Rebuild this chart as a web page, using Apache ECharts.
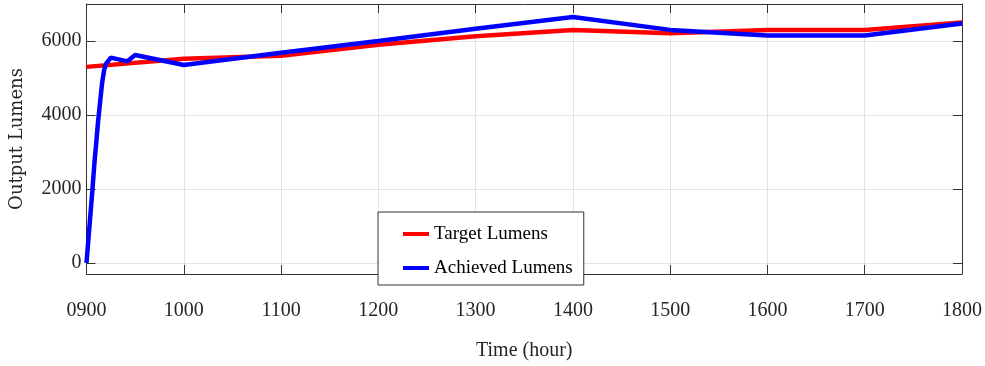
<!DOCTYPE html>
<html>
<head>
<meta charset="utf-8">
<script src="https://cdn.jsdelivr.net/npm/echarts@6/dist/echarts.min.js"></script>
<style>
  html, body { margin: 0; padding: 0; background: #fff; }
  #chart { width: 985px; height: 366px; }
</style>
</head>
<body>
<div id="chart"></div>
<script>
// Target lumens schedule (hour, lumens)
const targetHours = [900, 1000, 1100, 1200, 1300, 1400, 1500, 1600, 1700, 1800];
const targetLumens = [5300, 5520, 5600, 5900, 6130, 6300, 6210, 6300, 6300, 6500];

// Achieved lumens (hour, lumens)
const achievedHours = [900, 902, 904, 906, 908, 910, 912, 914, 916, 918, 920, 925, 942, 950, 1000, 1100, 1200, 1300, 1400, 1500, 1600, 1700, 1800];
const achievedLumens = [0, 650, 1300, 1950, 2650, 3250, 3850, 4350, 4850, 5200, 5380, 5550, 5450, 5620, 5350, 5680, 6000, 6330, 6650, 6300, 6150, 6150, 6470];

// Axis ticks
const xTicks = [900, 1000, 1100, 1200, 1300, 1400, 1500, 1600, 1700, 1800];
const yTicks = [0, 2000, 4000, 6000];

const pair = (xs, ys) => xs.map((x, i) => [x, ys[i]]);

const axisColor = '#333333';
const gridColor = '#e3e3e3';
const labelFont = 'Liberation Serif';

const chart = echarts.init(document.getElementById('chart'), null, { renderer: 'canvas' });

chart.setOption({
  animation: false,
  backgroundColor: '#ffffff',
  grid: { left: 86.5, right: 20, top: 4, bottom: 81, containLabel: false },
  legend: {
    orient: 'vertical',
    left: 378,
    top: 212,
    padding: [12, 11, 7, 25],
    itemGap: 14,
    itemWidth: 26,
    itemHeight: 4,
    icon: 'rect',
    backgroundColor: '#ffffff',
    borderColor: axisColor,
    borderWidth: 1,
    borderRadius: 0,
    z: 20,
    textStyle: { fontFamily: labelFont, fontSize: 19, lineHeight: 20, color: '#000' },
    data: ['Target Lumens', 'Achieved Lumens']
  },
  xAxis: [
    {
      type: 'value',
      min: 900,
      max: 1800,
      interval: 100,
      position: 'bottom',
      name: 'Time (hour)',
      nameLocation: 'middle',
      nameGap: 67,
      nameTextStyle: { fontFamily: labelFont, fontSize: 20, color: '#262626' },
      axisLine: { show: true, onZero: false, lineStyle: { color: axisColor, width: 1 } },
      axisTick: { show: true, inside: true, length: 9, lineStyle: { color: axisColor } },
      axisLabel: {
        margin: 27,
        fontFamily: labelFont,
        fontSize: 20,
        color: '#262626',
        formatter: v => String(v).padStart(4, '0')
      },
      splitLine: { show: true, lineStyle: { color: gridColor, width: 1 } }
    },
    {
      type: 'value',
      min: 900,
      max: 1800,
      interval: 100,
      position: 'top',
      axisLine: { show: true, onZero: false, lineStyle: { color: axisColor, width: 1 } },
      axisTick: { show: true, inside: true, length: 9, lineStyle: { color: axisColor } },
      axisLabel: { show: false },
      splitLine: { show: false }
    }
  ],
  yAxis: [
    {
      type: 'value',
      min: -300,
      max: 7000,
      position: 'left',
      name: 'Output Lumens',
      nameLocation: 'middle',
      nameGap: 60,
      nameRotate: 90,
      nameTextStyle: { fontFamily: 'DejaVu Serif', fontSize: 18, color: '#262626' },
      axisLine: { show: true, onZero: false, lineStyle: { color: axisColor, width: 1 } },
      axisTick: { show: true, inside: true, length: 9, customValues: yTicks, lineStyle: { color: axisColor } },
      axisLabel: {
        margin: 5,
        fontFamily: labelFont,
        fontSize: 20,
        color: '#262626',
        customValues: yTicks,
        formatter: v => String(v)
      },
      splitLine: { show: true, lineStyle: { color: gridColor, width: 1 } }
    },
    {
      type: 'value',
      min: -300,
      max: 7000,
      position: 'right',
      axisLine: { show: true, onZero: false, lineStyle: { color: axisColor, width: 1 } },
      axisTick: { show: true, inside: true, length: 9, customValues: yTicks, lineStyle: { color: axisColor } },
      axisLabel: { show: false, customValues: yTicks },
      splitLine: { show: false }
    }
  ],
  series: [
    {
      name: 'Target Lumens',
      type: 'line',
      xAxisIndex: 0,
      yAxisIndex: 0,
      data: pair(targetHours, targetLumens),
      showSymbol: false,
      color: '#ff0000',
      lineStyle: { color: '#ff0000', width: 4.5 },
      z: 3
    },
    {
      name: 'Achieved Lumens',
      type: 'line',
      xAxisIndex: 0,
      yAxisIndex: 0,
      data: pair(achievedHours, achievedLumens),
      showSymbol: false,
      color: '#0000ff',
      lineStyle: { color: '#0000ff', width: 4.5 },
      z: 4
    }
  ]
});
</script>
</body>
</html>
